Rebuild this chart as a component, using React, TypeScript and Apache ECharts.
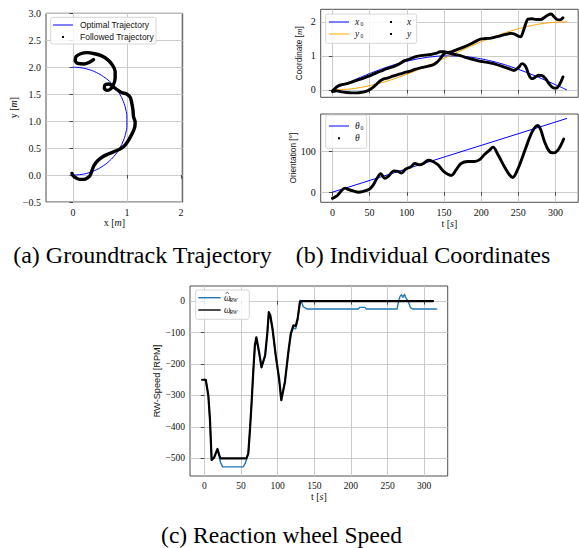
import React, { useEffect, useRef } from 'react';
import * as echarts from 'echarts';

const SERIF = '"Liberation Serif", "Times New Roman", serif';
const SANS = '"Liberation Sans", Arial, sans-serif';

// ---- Optimal (reference) trajectory, sampled every 15 s ----
const refTimes = [0, 15, 30, 45, 60, 75, 90, 105, 120, 135, 150, 165, 180, 195, 210, 225, 240, 255, 270, 285, 300, 315];
const refX = [0, 0.149, 0.295, 0.434, 0.563, 0.68, 0.782, 0.866, 0.93, 0.975, 0.997, 0.997, 0.975, 0.93, 0.866, 0.782, 0.68, 0.563, 0.434, 0.295, 0.149, 0];
const refY = [0, 0.011, 0.044, 0.099, 0.174, 0.267, 0.377, 0.5, 0.633, 0.777, 0.925, 1.075, 1.223, 1.367, 1.5, 1.623, 1.733, 1.826, 1.901, 1.956, 1.989, 2];
const thetaRefTimes = [0, 315];
const thetaRefValues = [0, 180];

// ---- Followed groundtrack (x, y) ----
const pathX = [-0.02, 0.0, 0.05, 0.12, 0.2, 0.27, 0.32, 0.35, 0.39, 0.46, 0.55, 0.65, 0.75, 0.86, 0.95, 1.03, 1.09, 1.14, 1.15, 1.12, 1.11, 1.09, 1.06, 1.0, 0.9, 0.82, 0.74, 0.66, 0.59, 0.58, 0.63, 0.7, 0.75, 0.78, 0.78, 0.73, 0.64, 0.53, 0.4, 0.26, 0.14, 0.06, 0.04, 0.09, 0.2, 0.3, 0.38];
const pathY = [0.03, -0.01, -0.05, -0.08, -0.08, -0.05, 0.0, 0.08, 0.18, 0.27, 0.34, 0.39, 0.43, 0.48, 0.54, 0.65, 0.76, 0.88, 0.98, 1.08, 1.2, 1.32, 1.44, 1.5, 1.53, 1.58, 1.64, 1.69, 1.67, 1.61, 1.57, 1.6, 1.68, 1.8, 1.92, 2.04, 2.14, 2.21, 2.25, 2.27, 2.25, 2.2, 2.13, 2.07, 2.06, 2.09, 2.14];

// ---- Followed coordinates over time ----
const xTimes = [0, 4, 8, 14, 19, 26, 33, 40, 46, 53, 59, 66, 73, 80, 86, 92, 97, 103, 110, 117, 124, 132, 139, 145, 150, 157, 165, 173, 180, 188, 195, 202, 210, 217, 224, 231, 238, 244, 250, 255, 260, 264, 268, 272, 277, 282, 287, 292, 297, 301, 305, 310];
const xValues = [-0.03, 0.05, 0.12, 0.16, 0.18, 0.23, 0.28, 0.33, 0.38, 0.44, 0.5, 0.56, 0.62, 0.67, 0.72, 0.79, 0.86, 0.9, 0.96, 1.0, 1.02, 1.04, 1.07, 1.12, 1.12, 1.08, 1.04, 1.0, 0.95, 0.9, 0.86, 0.83, 0.8, 0.77, 0.72, 0.67, 0.62, 0.57, 0.65, 0.77, 0.68, 0.45, 0.33, 0.36, 0.43, 0.42, 0.32, 0.16, 0.06, 0.05, 0.14, 0.38];
const yTimes = [0, 6, 12, 19, 26, 33, 40, 46, 51, 55, 60, 64, 69, 75, 81, 87, 93, 99, 105, 111, 117, 123, 129, 135, 140, 145, 150, 155, 160, 166, 172, 178, 185, 192, 199, 206, 213, 220, 226, 233, 240, 245, 250, 253, 257, 260, 263, 268, 274, 280, 285, 290, 294, 298, 302, 306, 310];
const yValues = [-0.05, -0.03, -0.06, -0.08, -0.09, -0.09, -0.07, -0.04, 0.02, 0.08, 0.18, 0.26, 0.32, 0.35, 0.4, 0.44, 0.48, 0.52, 0.55, 0.6, 0.64, 0.67, 0.7, 0.73, 0.8, 0.92, 1.06, 1.1, 1.12, 1.17, 1.22, 1.27, 1.34, 1.42, 1.49, 1.51, 1.52, 1.56, 1.59, 1.63, 1.66, 1.64, 1.58, 1.56, 1.75, 1.95, 2.08, 2.09, 2.07, 2.07, 2.13, 2.2, 2.23, 2.15, 2.07, 2.06, 2.12];
const thetaTimes = [0, 6, 10, 17, 21, 28, 35, 41.5, 50, 55, 60, 65, 70.5, 75, 82.6, 88, 93, 98.7, 105, 111, 117, 123, 128.6, 135, 142, 149.6, 160, 166.5, 173, 182, 191, 198, 204.5, 211, 216, 222.5, 231, 238, 242.4, 249, 256, 262.5, 269, 276, 280, 285, 291.5, 297, 303, 311];
const thetaValues = [-15, -9, -1, 10, 7, 3, 0, 2, 8, 18, 34, 45, 34, 38.5, 52, 51, 47, 56.5, 61.5, 70, 67, 71, 78, 75, 67, 51, 41, 55, 70, 75, 75, 79.5, 92, 102, 110, 92, 63, 42.6, 36, 55, 88, 120.5, 149, 163, 153, 124.6, 100, 96, 102, 130];

// ---- Reaction wheel speed ----
const rwTimes = [-3, 2, 5.5, 7.7, 10, 13.5, 15.5, 18, 20.5, 22, 57.5, 60, 62.4, 64.6, 67, 69, 71, 74.6, 78, 83, 86, 88, 90, 93, 97.4, 102, 105, 110, 114.7, 118, 121.5, 124.7, 127.4, 130.5, 133, 312];
const rwValues = [-250, -250, -300, -375, -505, -497, -485, -470, -490, -500, -500, -485, -405, -320, -215, -140, -115, -160, -210, -172, -100, -35, -45, -87, -172, -246, -315, -257, -161, -103, -77, -79, -55, -2, 0, 0];
const rwEstTimes = [-3, 2, 5.5, 7.7, 10, 13.5, 15.5, 18, 20.5, 22, 25, 53, 55.7, 58, 60, 62.4, 64.6, 67, 69, 71, 74.6, 78, 83, 86, 88, 90, 93, 97.4, 102, 105, 110, 114.7, 118, 121.5, 124.7, 127.4, 130.5, 133, 135, 140, 210, 212, 219, 221, 263, 265, 267, 269, 271, 273, 275, 278, 281, 284, 317];
const rwEstValues = [-250, -250, -300, -380, -505, -497, -485, -472, -495, -512, -527, -527, -517, -500, -485, -405, -320, -220, -148, -120, -165, -212, -175, -103, -40, -48, -90, -175, -250, -312, -257, -165, -108, -85, -88, -60, 3, -5, -18, -25, -25, -20, -20, -25, -25, 0, 15, 20, 12, 22, 10, 0, -20, -25, -25];

// ---- Ticks and captions ----
const groundXTicks = [0, 1, 2];
const groundYTicks = [-0.5, 0, 0.5, 1, 1.5, 2, 2.5, 3];
const coordTicks = [0, 1, 2];
const orientTicks = [0, 100];
const timeTicks = [0, 50, 100, 150, 200, 250, 300];
const rwTicks = [-500, -400, -300, -200, -100, 0];
const captions = ['(a) Groundtrack Trajectory', '(b) Individual Coordinates', '(c) Reaction wheel Speed'];

const zip = (a: number[], b: number[]) => a.map((v, i) => [v, b[i]]);
const minus = (s: string, v: number) => (v < 0 ? '\u2212' : '') + s;
const fmt1 = (v: number) => minus(Math.abs(v).toFixed(1), v);
const fmt0 = (v: number) => minus(String(Math.abs(v)), v);

const TXT = '#111';

function axis(gridIndex: number, min: number, max: number, ticks: number[], fmt: (v: number) => string, fontSize: number, extra: any = {}) {
  return {
    type: 'value',
    gridIndex,
    min,
    max,
    axisLine: { show: false },
    axisTick: { show: true, inside: false, length: 3.5, customValues: ticks, lineStyle: { color: '#222', width: 0.8 } },
    axisLabel: { show: true, customValues: ticks, formatter: fmt, fontFamily: SERIF, fontSize, color: TXT, margin: 5 },
    splitLine: { show: true, lineStyle: { color: '#c6c6c6', width: 0.9 } },
    nameLocation: 'middle',
    ...extra,
  };
}

function gridBox(left: number, top: number, width: number, height: number) {
  return {
    left, top, width, height,
    show: true,
    borderColor: '#222',
    borderWidth: 0.8,
    backgroundColor: 'transparent',
    containLabel: false,
    outerBoundsMode: 'none',
  };
}

function lineSeries(x: number, y: number, data: number[][], color: string, width: number, smooth: number | boolean, z = 2) {
  return {
    type: 'line',
    xAxisIndex: x,
    yAxisIndex: y,
    data,
    symbol: 'none',
    smooth,
    z,
    lineStyle: { color, width, cap: 'round', join: 'round' },
    itemStyle: { color },
    silent: true,
  };
}

function txt(x: number, y: number, text: string, opts: any = {}) {
  return {
    type: 'text',
    x,
    y,
    z: 100,
    style: {
      text,
      fill: opts.fill || TXT,
      fontSize: opts.fontSize || 8,
      fontFamily: opts.fontFamily || SERIF,
      fontStyle: opts.fontStyle || 'normal',
      align: opts.align || 'left',
      verticalAlign: opts.verticalAlign || 'middle',
      textAlign: opts.align || 'left',
      textVerticalAlign: opts.verticalAlign || 'middle',
    },
  };
}

function box(x: number, y: number, w: number, h: number) {
  return {
    type: 'rect',
    z: 99,
    shape: { x, y, width: w, height: h, r: 2 },
    style: { fill: 'rgba(255,255,255,0.85)', stroke: '#cccccc', lineWidth: 0.8 },
  };
}

function seg(x1: number, x2: number, y: number, color: string, w = 1) {
  return { type: 'line', z: 101, shape: { x1, y1: y, x2, y2: y }, style: { stroke: color, lineWidth: w } };
}

function dot(x: number, y: number) {
  return { type: 'rect', z: 101, shape: { x: x - 1, y: y - 1, width: 2, height: 2 }, style: { fill: '#000' } };
}

function mathSym(x: number, y: number, sym: string, sub: string, subSize = 5.5, symSize = 9.5) {
  return [
    txt(x, y, sym, { fontStyle: 'italic', fontSize: symSize }),
    txt(x + symSize * 0.5 + 0.8, y + 2.4, sub, { fontStyle: sub === '0' ? 'normal' : 'italic', fontSize: subSize }),
  ];
}

function hat(x: number, y: number) {
  return { type: 'polyline', z: 101, shape: { points: [[x, y + 1.6], [x + 1.8, y], [x + 3.6, y + 1.6]] }, style: { stroke: TXT, lineWidth: 0.6, fill: 'none' } };
}

export default function App() {
  const ref = useRef<HTMLDivElement>(null);

  useEffect(() => {
    if (!ref.current) return;
    const chart = echarts.init(ref.current, undefined, { renderer: 'svg' });

    const nameStyleSerif = { fontFamily: SERIF, fontSize: 10, color: TXT, rich: { i: { fontStyle: 'italic', fontFamily: SERIF, fontSize: 10, color: TXT } } };
    const nameStyleSans = { fontFamily: SANS, fontSize: 8.3, color: TXT, rich: { i: { fontStyle: 'italic', fontFamily: SERIF, fontSize: 9, color: TXT } } };
    const nameStyleSansC = { fontFamily: SANS, fontSize: 9.2, color: TXT };

    const graphic: any[] = [
      // legend (a)
      box(50.7, 17.3, 105.3, 26.7),
      seg(53, 73, 25, '#0000ff', 1),
      txt(80, 25, 'Optimal Trajectory', { fontFamily: SANS, fontSize: 8.5 }),
      dot(63, 37),
      txt(80, 37, 'Followed Trajectory', { fontFamily: SANS, fontSize: 8.5 }),
      // legend (b) top
      box(325.7, 14, 91, 29.3),
      seg(329, 349, 22, '#0000ff', 1),
      ...mathSym(355, 22, 'x', '0'),
      dot(391, 22),
      txt(407, 22, 'x', { fontStyle: 'italic', fontSize: 9.5 }),
      seg(329, 349, 34, '#ffa500', 1),
      ...mathSym(355, 34, 'y', '0'),
      dot(391, 34),
      txt(407, 34, 'y', { fontStyle: 'italic', fontSize: 9.5 }),
      // legend (b) bottom
      box(325.7, 115, 41, 33.3),
      seg(329, 349, 126, '#0000ff', 1),
      ...mathSym(355, 126, '\u03b8', '0'),
      dot(339, 138.3),
      txt(355, 138.3, '\u03b8', { fontStyle: 'italic', fontSize: 9.5 }),
      // legend (c)
      box(195.7, 290, 53.6, 29.3),
      seg(198.3, 220.7, 297.7, '#1f77b4', 1.4),
      ...mathSym(224, 298, '\u03c9', 'RW', 5.5, 9.5),
      hat(225.4, 292.2),
      seg(198.3, 220.7, 310, '#000000', 1.4),
      ...mathSym(224, 309.8, '\u03c9', 'RW', 5.5, 9.5),
      // captions
      txt(142.5, 255, captions[0], { fontSize: 24, align: 'center', fill: '#000' }),
      txt(423, 255, captions[1], { fontSize: 24, align: 'center', fill: '#000' }),
      txt(281.5, 534.5, captions[2], { fontSize: 23.5, align: 'center', fill: '#000' }),
    ];

    const option: any = {
      animation: false,
      backgroundColor: '#ffffff',
      grid: [
        gridBox(46, 13.3, 136.7, 188.7),
        gridBox(320.7, 9.3, 257.5, 88),
        gridBox(320.7, 114, 257.5, 88.3),
        gridBox(190, 286, 257.7, 190),
      ],
      xAxis: [
        axis(0, -0.5, 2.03, groundXTicks, fmt0, 10, { name: 'x [{i|m}]', nameGap: 14, nameTextStyle: nameStyleSerif }),
        axis(1, -15.75, 330.5, timeTicks, fmt0, 10, { axisLabel: { show: false, customValues: timeTicks } }),
        axis(2, -15.75, 330.5, timeTicks, fmt0, 10, { name: 't [{i|s}]', nameGap: 14, nameTextStyle: nameStyleSerif }),
        axis(3, -19.5, 332, timeTicks, fmt0, 9.5, { name: 't [{i|s}]', nameGap: 14.5, nameTextStyle: nameStyleSerif }),
      ],
      yAxis: [
        axis(0, -0.5, 3.0, groundYTicks, fmt1, 10, { name: 'y [{i|m}]', nameGap: 25, nameTextStyle: nameStyleSerif }),
        axis(1, -0.22, 2.37, coordTicks, fmt0, 10, { name: 'Coordinate [{i|m}]', nameGap: 17, nameTextStyle: nameStyleSans }),
        axis(2, -24.7, 191, orientTicks, fmt0, 10, { name: 'Orientation [\u00b0]', nameGap: 20, nameTextStyle: nameStyleSans }),
        axis(3, -556, 48, rwTicks, fmt0, 9.5, { name: 'RW-Speed [RPM]', nameGap: 28, nameTextStyle: nameStyleSansC }),
      ],
      series: [
        lineSeries(0, 0, zip(refX, refY), '#0000ff', 1, true, 2),
        lineSeries(0, 0, zip(pathX, pathY), '#000000', 3.4, 0.35, 3),
        lineSeries(1, 1, zip(refTimes, refX), '#0000ff', 1, true, 2),
        lineSeries(1, 1, zip(refTimes, refY), '#ffa500', 1, true, 2),
        lineSeries(1, 1, zip(xTimes, xValues), '#000000', 2.9, 0.35, 3),
        lineSeries(1, 1, zip(yTimes, yValues), '#000000', 2.9, 0.35, 3),
        lineSeries(2, 2, zip(thetaRefTimes, thetaRefValues), '#0000ff', 1, false, 2),
        lineSeries(2, 2, zip(thetaTimes, thetaValues), '#000000', 2.9, 0.35, 3),
        lineSeries(3, 3, zip(rwEstTimes, rwEstValues), '#1f77b4', 1.4, false, 2),
        lineSeries(3, 3, zip(rwTimes, rwValues), '#000000', 2.2, false, 3),
      ],
      graphic,
    };

    chart.setOption(option);
    return () => chart.dispose();
  }, []);

  return (
    <div
      ref={ref}
      style={{ position: 'fixed', left: 0, top: 0, width: 579, height: 548, background: '#fff' }}
    />
  );
}
